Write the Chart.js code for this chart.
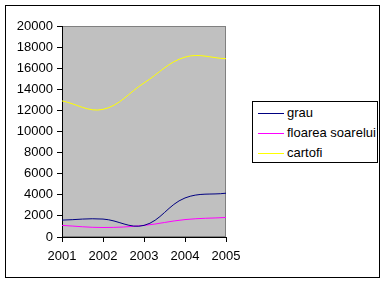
<!DOCTYPE html>
<html>
<head>
<meta charset="utf-8">
<script src="https://cdn.jsdelivr.net/npm/chart.js@4/dist/chart.umd.min.js"></script>
<style>
  html,body{margin:0;padding:0;background:#fff;}
  body{width:388px;height:284px;position:relative;overflow:hidden;font-family:"Liberation Sans",Arial,sans-serif;}
  #frame{position:absolute;left:5px;top:5px;width:373px;height:271px;border:1px solid #000;}
  #wrap{position:absolute;left:0;top:0;width:388px;height:284px;}
  #legend{position:absolute;left:252px;top:101px;width:124px;height:60px;border:1px solid #000;background:#fff;}
  .row{position:absolute;left:0;height:20px;font-size:13px;line-height:20px;color:#000;white-space:nowrap;}
  .row i{position:absolute;left:5px;top:10px;width:26px;height:0;border-top:1px solid;}
  .row span{position:absolute;left:34px;top:0;}
</style>
</head>
<body>
<div id="frame"></div>
<div id="wrap"><canvas id="c" width="388" height="284"></canvas></div>
<div id="legend"></div>
<script>
/* ===== 資料 ===== */
const years   = ['2001','2002','2003','2004','2005'];
const grau    = [1600, 1700, 1100, 3700, 4150];
const floarea = [1100,  900, 1100, 1650, 1850];
const cartofi = [12900, 12100, 14600, 17050, 16900];
const names   = ['grau','floarea soarelui','cartofi'];
const colors  = ['#000080','#ff00ff','#ffff00'];

const $ = s => document.querySelector(s);

// 灰色繪圖區背景
const plotBg = {
  id:'plotBg',
  beforeDraw(c){
    const {ctx, chartArea:a} = c;
    ctx.save();
    ctx.fillStyle = '#c0c0c0';
    ctx.fillRect(a.left, a.top, a.right-a.left, a.bottom-a.top);
    ctx.strokeStyle = '#808080'; ctx.lineWidth = 1;
    ctx.strokeRect(a.left+0.5, a.top+0.5, a.right-a.left-1, a.bottom-a.top-1);
    ctx.restore();
  }
};

const mk = (data,i) => ({label:names[i], data, borderColor:colors[i], backgroundColor:colors[i],
  borderWidth:1, pointRadius:0, tension:0.38, fill:false});

new Chart($('#c'), {
  type:'line',
  data:{labels:years, datasets:[mk(grau,0), mk(floarea,1), mk(cartofi,2)]},
  options:{
    responsive:false, animation:false, devicePixelRatio:1,
    layout:{padding:{left:0, top:26, right:162, bottom:17}},
    plugins:{legend:{display:false}, tooltip:{enabled:false}},
    scales:{
      x:{
        offset:false,
        grid:{display:true, drawOnChartArea:false, drawTicks:true, tickLength:5, color:'#000'},
        border:{color:'#000'},
        ticks:{color:'#000', font:{family:'Liberation Sans', size:13}, padding:7, maxRotation:0, autoSkip:false},
        afterFit(s){ s.height = 30; }
      },
      y:{
        min:0, max:20000,
        grid:{display:true, drawOnChartArea:false, drawTicks:true, tickLength:5, color:'#000'},
        border:{color:'#000'},
        ticks:{stepSize:2000, color:'#000', font:{family:'Liberation Sans', size:13}, padding:4,
          callback:v=>String(v)},
        afterFit(s){ s.width = 62; }
      }
    }
  },
  plugins:[plotBg]
});

// 圖例（HTML）
names.forEach((n,i)=>{
  const r = document.createElement('div');
  r.className = 'row';
  r.style.top = (1 + i*20) + 'px';
  r.innerHTML = `<i style="border-color:${colors[i]}"></i><span>${n}</span>`;
  $('#legend').appendChild(r);
});
</script>
</body>
</html>
